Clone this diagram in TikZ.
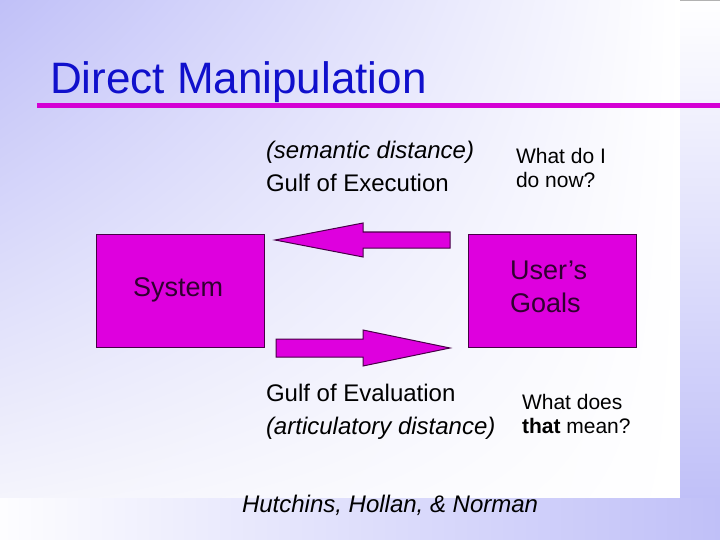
\documentclass[tikz,border=0pt]{standalone}
\usepackage{fontspec}
\setmainfont{Liberation Sans}
\usetikzlibrary{shadings}
\begin{document}
\begin{tikzpicture}[x=1pt,y=-1pt,
  every node/.style={inner sep=0pt,outer sep=0pt},
  lbl/.style={anchor=base west,font=\fontsize{24}{28}\selectfont},
  small/.style={anchor=base west,font=\fontsize{21}{25}\selectfont},
  boxtext/.style={anchor=base west,text=boxink,font=\fontsize{27}{31}\selectfont},
  mbox/.style={draw=boxline,line width=1pt,fill=mag},
  blockarrow/.style={draw=boxline,line width=1pt,fill=mag,line join=miter}]
\definecolor{lav}{RGB}{192,192,248}
\definecolor{lavlow}{RGB}{244,244,252}
\definecolor{mag}{RGB}{222,0,222}
\definecolor{rulemag}{RGB}{212,0,212}
\definecolor{boxline}{RGB}{70,0,70}
\definecolor{boxink}{RGB}{48,0,48}
\definecolor{titleblue}{RGB}{16,16,204}
\useasboundingbox (0,0) rectangle (720,540);
% background
\shade[upper left=lav,upper right=white,lower left=lavlow,lower right=white] (0,0) rectangle (680,498);
\shade[top color=white,bottom color=lav] (680,0) rectangle (720,498);
\shade[left color=white!97!lav,right color=lav] (0,498) rectangle (720,540);
\fill[gray!60] (680,0) rectangle (720,1.5);
% title
\node[anchor=base west,text=titleblue,font=\fontsize{44}{50}\selectfont] (title) at (50,94) {Direct Manipulation};
\fill[rulemag] (37,103) rectangle (720,108);
% boxes
\draw[mbox] (96,234) rectangle (264,347);
\node[boxtext] (system) at (133,296) {System};
\draw[mbox] (468,234) rectangle (636,347);
\node[boxtext] (users) at (510,279) {User’s};
\node[boxtext] (goals) at (510,312) {Goals};
% arrows
\draw[blockarrow] (275,240) -- (363,223) -- (363,232) -- (450,232) -- (450,248) -- (363,248) -- (363,257) -- cycle;
\draw[blockarrow] (450,348) -- (363,330) -- (363,339) -- (276,339) -- (276,357) -- (363,357) -- (363,366) -- cycle;
% labels
\node[lbl,font=\fontsize{24}{28}\selectfont\itshape] (sem) at (266,159) {(semantic distance)};
\node[lbl] (exec) at (266,192) {Gulf of Execution};
\node[small] (what1) at (516,164) {What do I};
\node[small] (what2) at (516,188) {do now?};
\node[lbl] (eval) at (266,401) {Gulf of Evaluation};
\node[lbl,font=\fontsize{24}{28}\selectfont\itshape] (art) at (266,434) {(articulatory distance)};
\node[small] (does1) at (522,409) {What does};
\node[small] (does2) at (522,433) {\textbf{that} mean?};
\node[lbl,font=\fontsize{24}{28}\selectfont\itshape] (cite) at (242,512) {Hutchins, Hollan, \& Norman};
\end{tikzpicture}
\end{document}
